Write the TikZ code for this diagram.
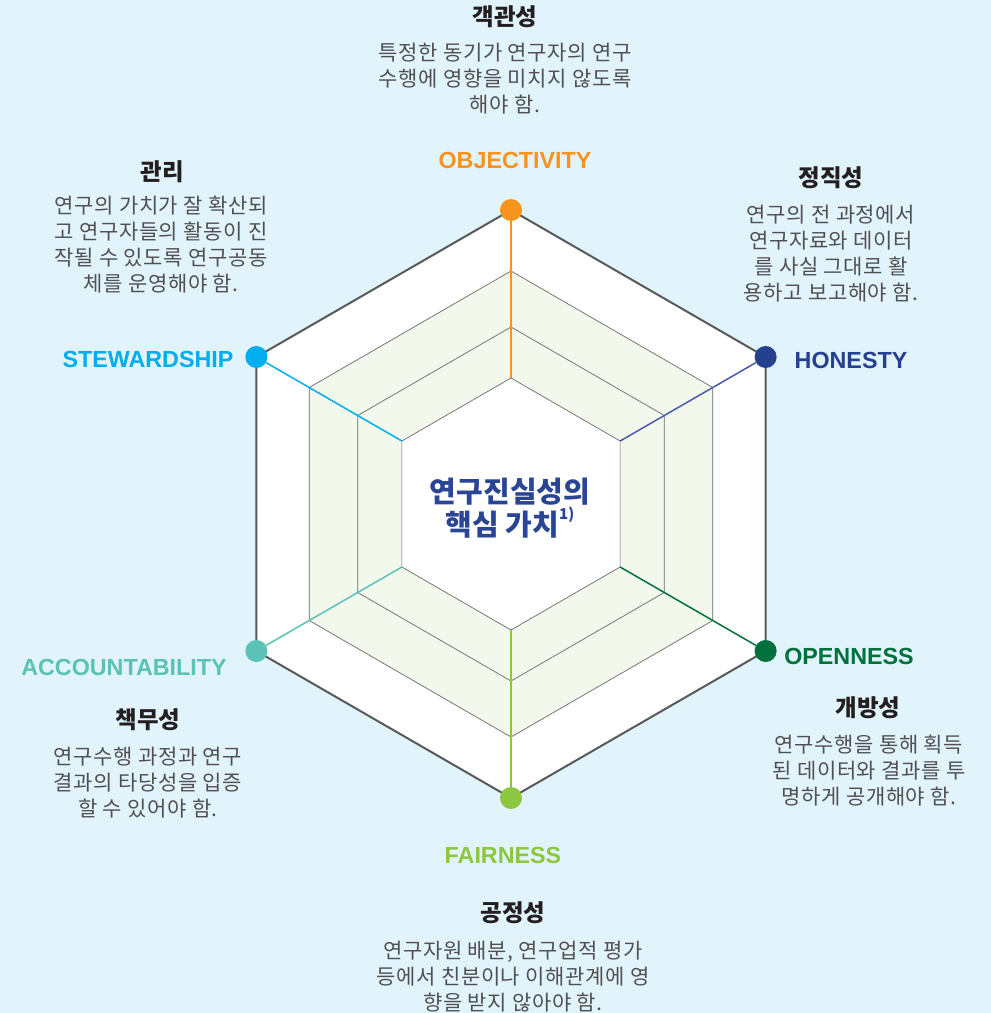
\documentclass[tikz,border=0pt]{standalone}
\usepackage{fontspec}
\setmainfont{Noto Sans CJK KR}
\newfontfamily\latinbold{Liberation Sans}
\newfontfamily\descfont{Noto Sans CJK KR}[LetterSpace=3]
\usetikzlibrary{calc}
\definecolor{bgblue}{RGB}{225,243,251}
\definecolor{ringgreen}{RGB}{242,248,236}
\definecolor{framegray}{RGB}{88,89,91}
\definecolor{ringgray}{RGB}{105,105,105}
\definecolor{descgray}{RGB}{80,80,82}
\definecolor{titleblack}{RGB}{35,31,32}
\definecolor{objorange}{RGB}{247,148,29}
\definecolor{honnavy}{RGB}{37,64,143}
\definecolor{honline}{RGB}{74,90,168}
\definecolor{opengreen}{RGB}{0,112,60}
\definecolor{fairlime}{RGB}{141,198,63}
\definecolor{accteal}{RGB}{91,194,182}
\definecolor{stewcyan}{RGB}{0,174,239}
\definecolor{corenavy}{RGB}{43,69,149}
\def\hexring[#1](#2)(#3){\draw[#1] ($(#2)+(-90:#3)$) -- ($(#2)+(-30:#3)$) -- ($(#2)+(30:#3)$) -- ($(#2)+(90:#3)$) -- ($(#2)+(150:#3)$) -- ($(#2)+(210:#3)$) -- cycle;}
\tikzset{
  valuetitle/.style={font=\fontsize{23.5}{26}\selectfont\bfseries, text=titleblack, inner sep=0pt},
  valuedesc/.style={font=\descfont\fontsize{21}{26}\selectfont, text=descgray, align=center, inner sep=0pt},
  valuename/.style={font=\latinbold\fontsize{23.3}{26}\selectfont\bfseries, text=#1, inner sep=0pt},
  valuedot/.style={circle, fill=#1, minimum size=22pt, inner sep=0pt},
  spoke/.style={line width=1.5pt, draw=#1},
}
\begin{document}
\begin{tikzpicture}[x=1pt,y=-1pt]
		%%%%% START %%%%%
		
		\fill[bgblue] (0,0) rectangle (991,1013);
		\coordinate (ctr) at (511,504);
		
		% rings
		\hexring[fill=white, draw=framegray, line width=2pt](ctr)(294);
		\hexring[fill=ringgreen, draw=ringgray, line width=0.7pt](ctr)(233);
		\hexring[draw=ringgray, line width=0.7pt](ctr)(177);
		\hexring[fill=white, draw=ringgray, line width=0.7pt](ctr)(126);
		
		% corners
		\foreach \ang/\nm in {-90/obj,-30/hon,30/ope,90/fai,150/acc,210/ste} {
			\coordinate (\nm-in) at ($(ctr)+(\ang:126)$);
			\coordinate (\nm-out) at ($(ctr)+(\ang:294)$);
		}
		
		% spokes and dots
		\node[valuedot=objorange] (obj-dot) at (obj-out) {};
		\node[valuedot=honnavy] (hon-dot) at (hon-out) {};
		\node[valuedot=opengreen] (ope-dot) at (ope-out) {};
		\node[valuedot=fairlime] (fai-dot) at (fai-out) {};
		\node[valuedot=accteal] (acc-dot) at (acc-out) {};
		\node[valuedot=stewcyan] (ste-dot) at (ste-out) {};
		\draw[spoke=objorange] (obj-in) -- (obj-dot);
		\draw[spoke=honline] (hon-in) -- (hon-dot);
		\draw[spoke=opengreen] (ope-in) -- (ope-dot);
		\draw[spoke=fairlime] (fai-in) -- (fai-dot);
		\draw[spoke=accteal] (acc-in) -- (acc-dot);
		\draw[spoke=stewcyan] (ste-in) -- (ste-dot);
		
		% core
		\node[font=\fontsize{29}{33}\selectfont\bfseries, text=corenavy, align=center, inner sep=0pt] (core) at (510,508) {연구진실성의\\핵심 가치\raisebox{0.55em}{\fontsize{15}{15}\selectfont 1)}};
		
		% objectivity
		\node[valuename=objorange] (obj-name) at (515,160) {OBJECTIVITY};
		\node[valuetitle] (obj-title) at (505,17) {객관성};
		\node[valuedesc] (obj-desc) at (505,79) {특정한 동기가 연구자의 연구\\수행에 영향을 미치지 않도록\\해야 함.};
		
		% honesty
		\node[valuename=honnavy] (hon-name) at (851,360) {HONESTY};
		\node[valuetitle] (hon-title) at (831,178) {정직성};
		\node[valuedesc] (hon-desc) at (831,254) {연구의 전 과정에서\\연구자료와 데이터\\를 사실 그대로 활\\용하고 보고해야 함.};
		
		% openness
		\node[valuename=opengreen] (ope-name) at (849,656) {OPENNESS};
		\node[valuetitle] (ope-title) at (868,708) {개방성};
		\node[valuedesc] (ope-desc) at (869,771) {연구수행을 통해 획득\\된 데이터와 결과를 투\\명하게 공개해야 함.};
		
		% fairness
		\node[valuename=fairlime] (fai-name) at (503,855) {FAIRNESS};
		\node[valuetitle] (fai-title) at (513,913) {공정성};
		\node[valuedesc] (fai-desc) at (513,977) {연구자원 배분, 연구업적 평가\\등에서 친분이나 이해관계에 영\\향을 받지 않아야 함.};
		
		% accountability
		\node[valuename=accteal] (acc-name) at (124,667) {ACCOUNTABILITY};
		\node[valuetitle] (acc-title) at (148,720) {책무성};
		\node[valuedesc] (acc-desc) at (148,783) {연구수행 과정과 연구\\결과의 타당성을 입증\\할 수 있어야 함.};
		
		% stewardship
		\node[valuename=stewcyan] (ste-name) at (148,359) {STEWARDSHIP};
		\node[valuetitle] (ste-title) at (162,172) {관리};
		\node[valuedesc] (ste-desc) at (161,245) {연구의 가치가 잘 확산되\\고 연구자들의 활동이 진\\작될 수 있도록 연구공동\\체를 운영해야 함.};
		
		%%%%% END %%%%%
\end{tikzpicture}
\end{document}
